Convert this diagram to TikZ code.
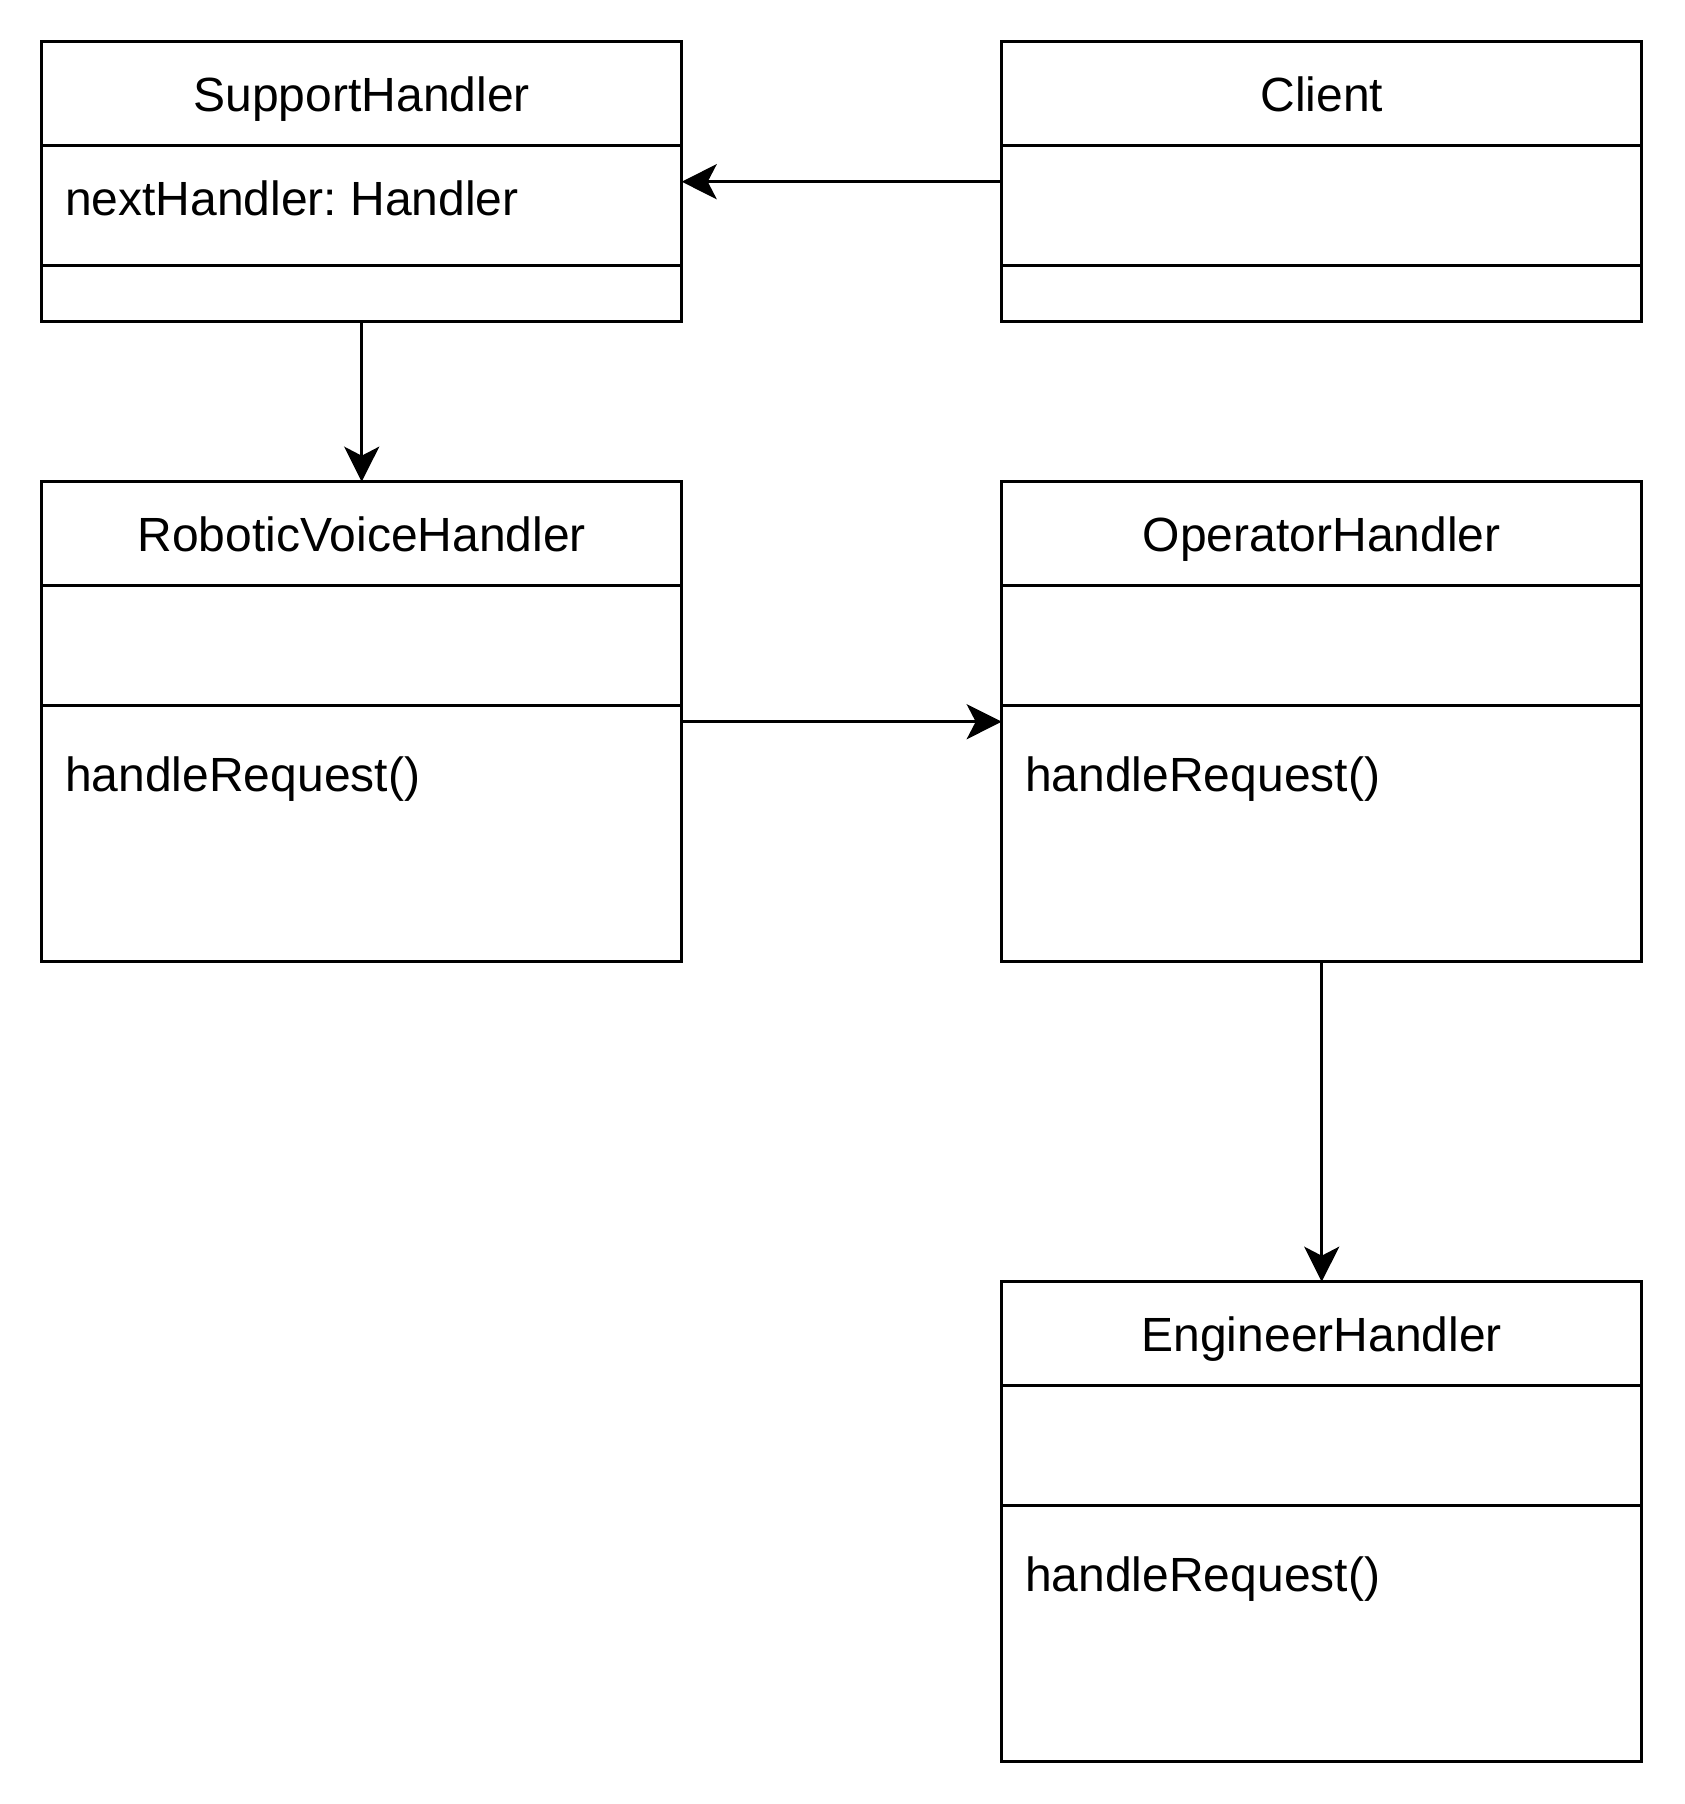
\documentclass[tikz,border=0pt]{standalone}
\usepackage{fontspec}
\setmainfont{Liberation Sans}
\usetikzlibrary{arrows.meta}
\frenchspacing
\begin{document}
\begin{tikzpicture}[x=1pt,y=-1pt,
  umlbox/.style={draw, line width=3.2pt, rectangle, inner sep=0pt, outer sep=0pt,
    minimum width=640pt, anchor=north west},
  divider/.style={line width=3.2pt},
  boxtitle/.style={anchor=base, font=\fontsize{48}{58}\selectfont, inner sep=0pt},
  member/.style={anchor=base west, font=\fontsize{48}{58}\selectfont, inner sep=0pt},
  arr/.style={line width=3.2pt, -{Stealth[length=35pt,width=35pt,inset=9pt]}}]
\useasboundingbox (0,0) rectangle (1684,1804);

% boxes
\node[umlbox, minimum height=280pt] (sh) at (41.7,41.7) {};
\node[umlbox, minimum height=280pt] (cl) at (1001.7,41.7) {};
\node[umlbox, minimum height=480pt] (rvh) at (41.7,481.7) {};
\node[umlbox, minimum height=480pt] (oh) at (1001.7,481.7) {};
\node[umlbox, minimum height=480pt] (eh) at (1001.7,1281.7) {};

% dividers
\foreach \b in {sh,cl,rvh,oh,eh}{
  \draw[divider] ([yshift=-104pt]\b.north west) -- ([yshift=-104pt]\b.north east);
  \draw[divider] ([yshift=-224pt]\b.north west) -- ([yshift=-224pt]\b.north east);
}

% titles
\node[boxtitle] (shT) at ([yshift=-70pt]sh.north) {SupportHandler};
\node[boxtitle] (clT) at ([yshift=-70pt]cl.north) {Client};
\node[boxtitle] (rvhT) at ([yshift=-70pt]rvh.north) {RoboticVoiceHandler};
\node[boxtitle] (ohT) at ([yshift=-70pt]oh.north) {OperatorHandler};
\node[boxtitle] (ehT) at ([yshift=-70pt]eh.north) {EngineerHandler};

% members
\node[member] (shA) at ([xshift=23.3pt,yshift=-174pt]sh.north west) {nextHandler: Handler};
\node[member] (rvhM) at ([xshift=23.3pt,yshift=-310pt]rvh.north west) {handleRequest()};
\node[member] (ohM) at ([xshift=23.3pt,yshift=-310pt]oh.north west) {handleRequest()};
\node[member] (ehM) at ([xshift=23.3pt,yshift=-310pt]eh.north west) {handleRequest()};

% connectors
\draw[arr] (cl.west) -- (sh.east);
\draw[arr] (sh.south) -- (rvh.north);
\draw[arr] (rvh.east) -- (oh.west);
\draw[arr] (oh.south) -- (eh.north);
\end{tikzpicture}
\end{document}
